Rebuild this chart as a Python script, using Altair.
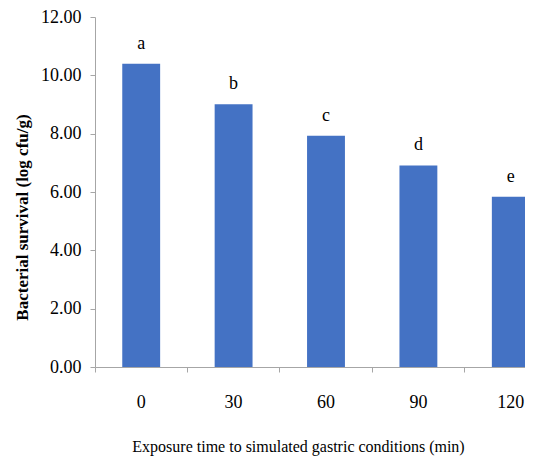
import altair as alt
import pandas as pd

times = ["0", "30", "60", "90", "120"]
survival = [10.40, 9.01, 7.93, 6.91, 5.84]
letters = ["a", "b", "c", "d", "e"]
y_ticks = [0, 2, 4, 6, 8, 10, 12]

df = pd.DataFrame({"time": times, "survival": survival, "letter": letters})

FONT = "Liberation Serif"
AX = "#A6A6A6"

x_enc = alt.X(
    "time:N",
    sort=times,
    scale=alt.Scale(range=[0, 462], paddingInner=0, paddingOuter=0),
    axis=alt.Axis(
        title="Exposure time to simulated gastric conditions (min)",
        titleFont=FONT, titleFontSize=16, titleFontWeight="normal", titleColor="black",
        titleX=203, titleY=84, titleAlign="center", titleBaseline="alphabetic",
        labelFont=FONT, labelFontSize=18, labelColor="black", labelAngle=0,
        labelPadding=21, bandPosition=0, tickSize=5, tickColor=AX, domainColor=AX,
        grid=False,
    ),
)
y_enc = alt.Y(
    "survival:Q",
    scale=alt.Scale(domain=[0, 12], nice=False),
    axis=alt.Axis(
        values=y_ticks, format=".2f", grid=False,
        title="Bacterial survival (log cfu/g)",
        titleFont=FONT, titleFontSize=17, titleFontWeight="bold", titleColor="black",
        titleX=-73, titleY=200, titleAlign="center", titleBaseline="middle", titleAngle=-90,
        labelFont=FONT, labelFontSize=18, labelColor="black", labelPadding=9,
        tickSize=5, tickColor=AX, domainColor=AX,
    ),
)

bars = alt.Chart(df).mark_bar(color="#4472C4", width=alt.RelativeBandSize(0.41)).encode(x=x_enc, y=y_enc)
labels = alt.Chart(df).mark_text(baseline="bottom", dy=-11, font=FONT, fontSize=18, color="black").encode(
    x=alt.X("time:N", sort=times), y="survival:Q", text="letter:N"
)

chart = (
    alt.layer(bars, labels)
    .properties(
        width=430, height=350,
        autosize=alt.AutoSizeParams(type="none"),
        padding={"left": 87, "top": 9, "right": 0, "bottom": 94},
        background="white",
    )
    .configure_view(stroke=None)
)

chart.save("out.html", embed_options={"renderer": "svg", "actions": False})
